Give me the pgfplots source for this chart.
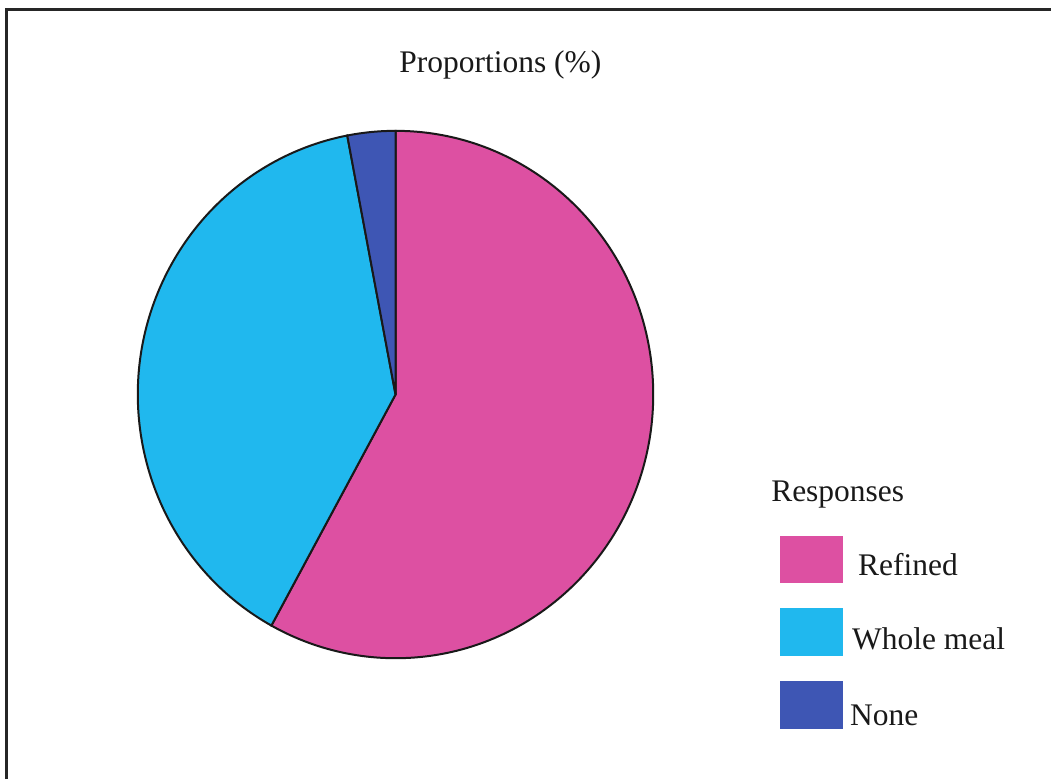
\documentclass[border=0pt]{standalone}
\usepackage{pgfplots}
\pgfplotsset{compat=1.18}
\usepackage{pgfplotstable}
\usepackage{fontspec}
\setmainfont{Liberation Serif}

\definecolor{refined}{RGB}{221,80,162}
\definecolor{wholemeal}{RGB}{32,184,238}
\definecolor{noneblue}{RGB}{62,86,180}

% shares in percent
\pgfplotstableread{
label share
Refined 58
Wholemeal 39
None 3
}\piedata

\pgfplotstablegetelem{0}{share}\of\piedata \let\sA\pgfplotsretval
\pgfplotstablegetelem{1}{share}\of\piedata \let\sB\pgfplotsretval
\pgfplotstablegetelem{2}{share}\of\piedata \let\sC\pgfplotsretval
\pgfmathsetmacro{\aA}{90-3.6*\sA}
\pgfmathsetmacro{\aB}{\aA-3.6*\sB}
\pgfmathsetmacro{\aC}{\aB-3.6*\sC}

\begin{document}
\begin{tikzpicture}
\begin{axis}[
    at={(0,0)}, anchor=south west,
    hide axis, scale only axis, clip=false,
    width=1052pt, height=780pt,
    xmin=0, xmax=1052, ymin=0, ymax=780,
]
\path (axis cs:0,0) rectangle (axis cs:1052,780);
% frame (left and top only visible)
\draw[line width=2.5pt, black!85] (axis cs:6.5,0) -- (axis cs:6.5,770.5) -- (axis cs:1052,770.5);

% pie
\filldraw[fill=refined, draw=black!90, line width=2pt]
  (axis cs:396,385) -- ++(90:258pt and 264pt)
  arc[start angle=90, end angle=\aA, x radius=258pt, y radius=264pt] -- cycle;
\filldraw[fill=wholemeal, draw=black!90, line width=2pt]
  (axis cs:396,385) -- ++(\aA:258pt and 264pt)
  arc[start angle=\aA, end angle=\aB, x radius=258pt, y radius=264pt] -- cycle;
\filldraw[fill=noneblue, draw=black!90, line width=2pt]
  (axis cs:396,385) -- ++(\aB:258pt and 264pt)
  arc[start angle=\aB, end angle=\aC, x radius=258pt, y radius=264pt] -- cycle;

% title
\node[anchor=base, font=\fontsize{31.5}{38}\selectfont, text=black!90] at (axis cs:501,707) {Proportions (\%)};

% legend
\node[anchor=base west, inner sep=0pt, font=\fontsize{31.5}{38}\selectfont, text=black!90] at (axis cs:772,278) {Responses};
\fill[refined] (axis cs:781,243) rectangle (axis cs:844,196);
\fill[wholemeal] (axis cs:781,171) rectangle (axis cs:844,123);
\fill[noneblue] (axis cs:781,98) rectangle (axis cs:844,50);
\node[anchor=base west, inner sep=0pt, font=\fontsize{31.5}{38}\selectfont, text=black!90] at (axis cs:859,204) {Refined};
\node[anchor=base west, inner sep=0pt, font=\fontsize{31.5}{38}\selectfont, text=black!90] at (axis cs:853,130) {Whole meal};
\node[anchor=base west, inner sep=0pt, font=\fontsize{31.5}{38}\selectfont, text=black!90] at (axis cs:851,54) {None};
\end{axis}
\end{tikzpicture}
\end{document}
